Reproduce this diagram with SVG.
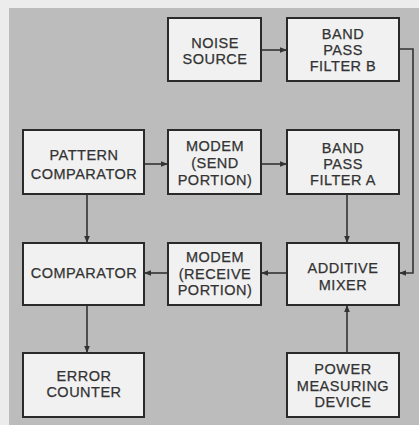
<svg xmlns="http://www.w3.org/2000/svg" width="419" height="425" viewBox="0 0 419 425">
<defs>
<style>
.box{fill:#f1f1f1;stroke:#2a2a2a;stroke-width:2}
.t{font-family:"Liberation Sans",Arial,sans-serif;font-size:14.5px;fill:#333;stroke:#333;stroke-width:0.25;text-anchor:middle;letter-spacing:0.5px}
.c{fill:none;stroke:#333;stroke-width:1.6}
</style>
<marker id="ah" viewBox="0 0 10 10" refX="10" refY="5" markerWidth="7" markerHeight="7" markerUnits="userSpaceOnUse" orient="auto">
<path d="M0,1 L10,5 L0,9 Z" fill="#333"/>
</marker>
</defs>
<rect x="0" y="0" width="419" height="425" fill="#ececec"/>
<rect x="9" y="8" width="410" height="417" fill="#bcbcbc"/>
<g id="connectors">
<line class="c" x1="261" y1="50" x2="287" y2="50" marker-end="url(#ah)"/>
<polyline class="c" points="399,49 413,49 413,273 399,273" marker-end="url(#ah)"/>
<line class="c" x1="144" y1="164" x2="168" y2="164" marker-end="url(#ah)"/>
<line class="c" x1="261" y1="164" x2="287" y2="164" marker-end="url(#ah)"/>
<line class="c" x1="347" y1="194" x2="347" y2="243" marker-end="url(#ah)"/>
<line class="c" x1="87" y1="194" x2="87" y2="243" marker-end="url(#ah)"/>
<line class="c" x1="287" y1="273" x2="261" y2="273" marker-end="url(#ah)"/>
<line class="c" x1="168" y1="273" x2="144" y2="273" marker-end="url(#ah)"/>
<line class="c" x1="87" y1="305" x2="87" y2="353" marker-end="url(#ah)"/>
<line class="c" x1="347" y1="353" x2="347" y2="305" marker-end="url(#ah)"/>
</g>
<g id="noise-source">
<rect class="box" x="168" y="18" width="93" height="63"/>
<text class="t" x="215" y="48">NOISE</text>
<text class="t" x="215" y="64">SOURCE</text>
</g>
<g id="bpf-b">
<rect class="box" x="287" y="18" width="112" height="63"/>
<text class="t" x="343" y="39">BAND</text>
<text class="t" x="343" y="55">PASS</text>
<text class="t" x="343" y="71">FILTER B</text>
</g>
<g id="pattern-comparator">
<rect class="box" x="23" y="130" width="121" height="64"/>
<text class="t" x="84" y="160">PATTERN</text>
<text class="t" x="84" y="179">COMPARATOR</text>
</g>
<g id="modem-send">
<rect class="box" x="168" y="130" width="93" height="64"/>
<text class="t" x="215" y="151">MODEM</text>
<text class="t" x="215" y="168">(SEND</text>
<text class="t" x="215" y="185">PORTION)</text>
</g>
<g id="bpf-a">
<rect class="box" x="287" y="130" width="112" height="64"/>
<text class="t" x="343" y="153">BAND</text>
<text class="t" x="343" y="169">PASS</text>
<text class="t" x="343" y="185">FILTER A</text>
</g>
<g id="comparator">
<rect class="box" x="23" y="243" width="121" height="62"/>
<text class="t" x="84" y="278">COMPARATOR</text>
</g>
<g id="modem-receive">
<rect class="box" x="168" y="243" width="93" height="62"/>
<text class="t" x="215" y="262">MODEM</text>
<text class="t" x="215" y="279">(RECEIVE</text>
<text class="t" x="215" y="295">PORTION)</text>
</g>
<g id="additive-mixer">
<rect class="box" x="287" y="243" width="112" height="62"/>
<text class="t" x="343" y="273">ADDITIVE</text>
<text class="t" x="343" y="290">MIXER</text>
</g>
<g id="error-counter">
<rect class="box" x="23" y="353" width="121" height="64"/>
<text class="t" x="84" y="381">ERROR</text>
<text class="t" x="84" y="397">COUNTER</text>
</g>
<g id="power-measuring">
<rect class="box" x="287" y="353" width="112" height="64"/>
<text class="t" x="343" y="374">POWER</text>
<text class="t" x="343" y="391">MEASURING</text>
<text class="t" x="343" y="407">DEVICE</text>
</g>
</svg>
